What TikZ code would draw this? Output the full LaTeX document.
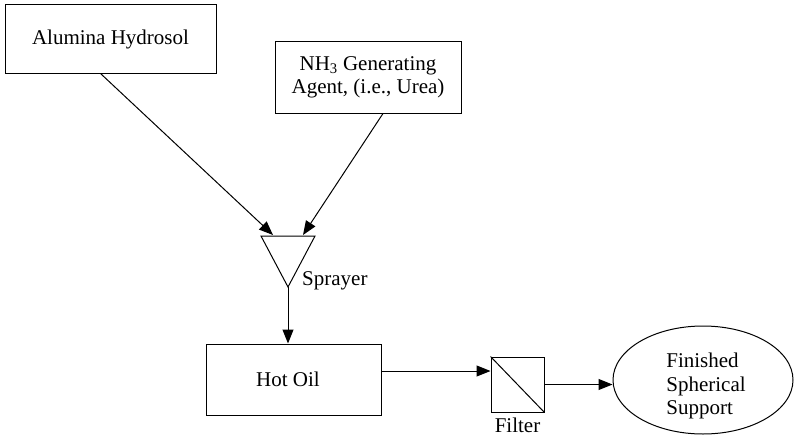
\documentclass[tikz,border=0pt]{standalone}
\usepackage{fontspec}
\setmainfont{Liberation Serif}
\usetikzlibrary{arrows.meta, positioning, shapes.geometric}

\tikzset{
  procbox/.style={draw, line width=1pt, inner sep=0pt, align=center},
  flow/.style={line width=1pt, -{Triangle[length=14pt, width=11pt]}},
}

\begin{document}
\begin{tikzpicture}[x=1pt, y=-1pt, font=\rmfamily\fontsize{21}{23.5}\selectfont]
  \useasboundingbox (0,0) rectangle (794,444);

  % Feeds
  \node[procbox, minimum width=211pt, minimum height=68pt] (hydrosol) at (110.5,39) {Alumina Hydrosol};
  \node[procbox, minimum width=186pt, minimum height=71pt] (urea) at (368,77.5) {NH\textsubscript{3} Generating\\Agent, (i.e., Urea)};

  % Sprayer
  \coordinate (sprayL) at (261,236);
  \coordinate (sprayR) at (315,236);
  \coordinate (sprayTip) at (288,287);
  \coordinate (sprayIn1) at (273,235);
  \coordinate (sprayIn2) at (303,235);
  \draw[line width=1pt] (sprayL) -- (sprayR) -- (sprayTip) -- cycle;
  \node[anchor=west, inner sep=0pt] (spraylabel) at (302,281) {Sprayer};

  \draw[flow] ([xshift=-10pt]hydrosol.south) -- (sprayIn1);
  \draw[flow] ([xshift=15pt]urea.south) -- (sprayIn2);

  % Hot oil
  \node[procbox, minimum width=175pt, minimum height=71pt] (hotoil) at (293.5,379.5) {Hot Oil\hspace*{11pt}};
  \draw[flow] (sprayTip) -- (sprayTip |- hotoil.north);

  % Filter
  \node[procbox, minimum width=53pt, minimum height=55pt] (filter) at (517.5,384.5) {};
  \draw[line width=1pt] (filter.north west) -- (filter.south east);
  \node[below=2pt of filter] (filterlabel) {Filter};
  \coordinate (oilout) at ([yshift=8.5pt]hotoil.east);
  \draw[flow] (oilout) -- (oilout -| filter.west);

  % Product
  \node[ellipse, draw, line width=1pt, inner sep=0pt, minimum width=180pt, minimum height=108pt] (product) at (703,380) {};
  \node[align=left] (productlabel) at (706,386) {Finished\\Spherical\\Support};
  \draw[flow] (filter.east) -- (filter.east -| product.west);
\end{tikzpicture}
\end{document}
